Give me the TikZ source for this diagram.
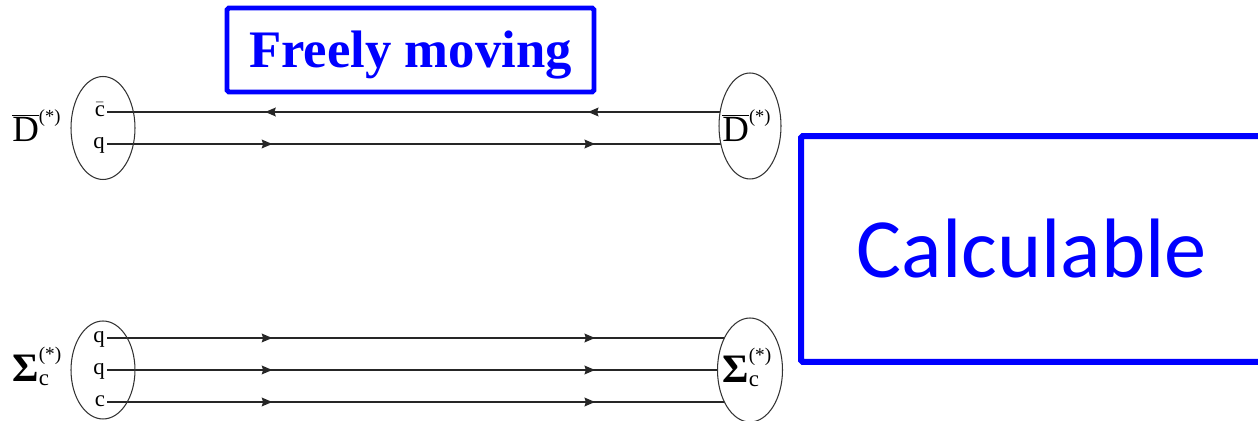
\documentclass[tikz,border=0pt]{standalone}
\usepackage{fontspec}
\setmainfont{Liberation Serif}
\newfontfamily\calibri{Carlito}
\usetikzlibrary{shapes.geometric,decorations.markings,arrows.meta,backgrounds}

\definecolor{boxblue}{RGB}{0,0,255}

% hadron names
\newcommand{\Dbarstar}{$\overline{\mathrm{D}}$\raisebox{11pt}{\fontsize{10.5}{10}\selectfont(*)}}
\newcommand{\Sigmacstar}{{\fontsize{23}{26}\selectfont\bfseries Σ}%
  \makebox[0pt][l]{\raisebox{-2pt}{\fontsize{13}{13}\selectfont c}}%
  \raisebox{12.5pt}{\fontsize{11}{10}\selectfont(*)}}

\tikzset{
  qtip/.tip={Stealth[length=6pt, width=5pt, inset=0.8pt]},
  hadron/.style={draw=black!80, line width=0.6pt, ellipse, inner sep=0pt,
    minimum width=1.28cm, minimum height=2.06cm},
  hname/.style={inner sep=0pt, anchor=base west, font=\fontsize{21}{24}\selectfont},
  qlabel/.style={inner sep=1pt, anchor=mid east, font=\fontsize{13}{15}\selectfont},
  quark/.style={line width=0.8pt, draw=black!85, postaction={decorate},
    decoration={markings,
      mark=at position 0.257 with {\arrow{qtip}},
      mark=at position 0.759 with {\arrow{qtip}}}},
  antiquark/.style={line width=0.8pt, draw=black!85, postaction={decorate},
    decoration={markings,
      mark=at position 0.246 with {\arrowreversed{qtip}},
      mark=at position 0.748 with {\arrowreversed{qtip}}}},
  bluebox/.style={draw=boxblue, text=boxblue, rounded corners=1pt, inner sep=0pt, text depth=0pt}
}

\begin{document}
\begin{tikzpicture}[x=0.02cm, y=-0.02cm]
  \clip (0,0) rectangle (1258,421);

  % D meson
  \node[hname] (Dname) at (12,142) {\Dbarstar};
  \node[hadron] (Dl) at (103,128) {};
  \node[qlabel] (cb) at (107,112) {$\bar{\mathrm{c}}$};
  \node[qlabel] (qD) at (107,144) {q};
  \node[hadron, fill=white, minimum width=1.24cm, minimum height=2.12cm] (Dr) at (750,126) {};
  \node[hname] (Drname) at (722,142) {\Dbarstar};

  % Sigma_c baryon
  \node[hname] (Sname) at (12,382) {\Sigmacstar};
  \node[hadron, minimum height=1.96cm] (Sl) at (103,370) {};
  \node[qlabel] (q1) at (107,338) {q};
  \node[qlabel] (q2) at (107,370) {q};
  \node[qlabel] (c3) at (107,402) {c};
  \node[hadron, fill=white, minimum width=1.30cm, minimum height=2.08cm] (Sr) at (750,370) {};
  \node[hname] (Srname) at (722,383) {\Sigmacstar};

  % quark lines, behind the right-hand hadrons
  \begin{pgfonlayer}{background}
    \draw[antiquark] (cb.mid east) -- (Dr.center |- cb.mid east);
    \draw[quark] (qD.mid east) -- (Dr.center |- qD.mid east);
    \draw[quark] (q1.mid east) -- (Sr.center |- q1.mid east);
    \draw[quark] (q2.mid east) -- (Sr.center |- q2.mid east);
    \draw[quark] (c3.mid east) -- (Sr.center |- c3.mid east);
  \end{pgfonlayer}

  % blue boxes
  \node[bluebox, line width=2.8pt, minimum width=7.34cm, minimum height=1.68cm,
    text height=20pt, font=\fontsize{30}{36}\selectfont\bfseries] (free) at (410.5,50) {Freely moving};
  \node[bluebox, line width=3.4pt, minimum width=9.24cm, minimum height=4.52cm,
    text height=32pt, font=\fontsize{48}{56}\selectfont\calibri] (calc) at (1032,249) {Calculable};
\end{tikzpicture}
\end{document}
